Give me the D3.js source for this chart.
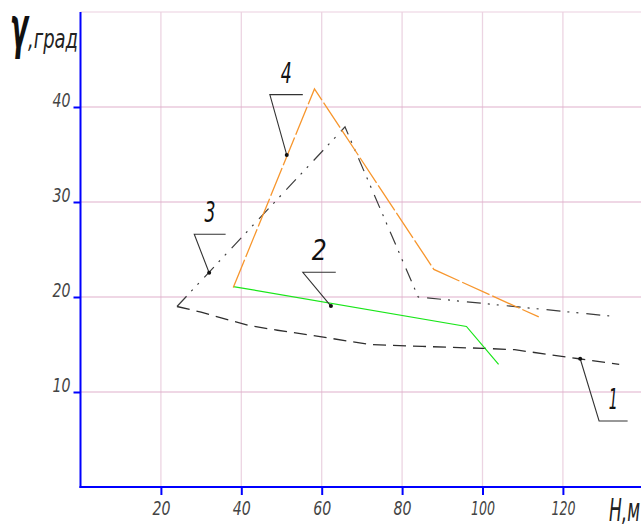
<!DOCTYPE html>
<html>
<head>
<meta charset="utf-8">
<script src="https://cdn.jsdelivr.net/npm/d3@7"></script>
<style>
  body { margin: 0; background: #fff; }
  svg { display: block; }
  .lbl { font-family: "DejaVu Sans Condensed", "Liberation Sans Narrow", sans-serif; font-style: italic; }
</style>
</head>
<body>
<svg id="chart" width="641" height="524"></svg>
<script>
///////////////////////////////////////////////////////////
// Data (H in m, gamma in degrees)

const curve1H = [24, 30, 35, 42, 49, 60, 72, 85, 100, 108, 124, 134];
const curve1G = [19, 18.4, 17.8, 17.0, 16.5, 15.8, 15.0, 14.8, 14.6, 14.45, 13.5, 12.9];

const curve2H = [38, 96, 104];
const curve2G = [21.1, 16.9, 12.9];

const curve3H = [24, 65.8, 84, 131.7];
const curve3G = [19, 37.9, 20, 18];

const curve4H = [38, 58.2, 87.9, 114];
const curve4G = [21, 41.9, 22.9, 17.9];

// callouts: point on curve, knee of leader, end of shelf
const calloutNames = ["1", "2", "3", "4"];
const calloutPointH = [124.3, 62.3, 32, 51.3];
const calloutPointG = [13.5, 19.05, 22.55, 34.95];
const calloutKneeH = [129, 55.3, 28.3, 47.1];
const calloutKneeG = [6.95, 22.6, 26.6, 41.3];
const calloutEndH = [136.1, 63.5, 36.1, 55.3];
const calloutWidth = [9, 15, 11, 11];

const xTicks = [20, 40, 60, 80, 100, 120];
const yTicks = [10, 20, 30, 40];
const yGrid = [10, 20, 30, 40, 50];

///////////////////////////////////////////////////////////
// Scales

const svg = d3.select("#chart");
const x = d3.scaleLinear().domain([0, 140]).range([80.5, 80.5 + 140 * 4.02]);
const y = d3.scaleLinear().domain([0, 50]).range([487, 12]);

// grid
svg.selectAll(".vgrid")
  .data(xTicks)
  .enter().append("line")
  .attr("x1", d => x(d)).attr("x2", d => x(d))
  .attr("y1", y(50)).attr("y2", y(0))
  .attr("stroke", "#ecd4e2")
  .attr("stroke-width", 1.3);

svg.selectAll(".hgrid")
  .data(yGrid)
  .enter().append("line")
  .attr("x1", x(0)).attr("x2", 641)
  .attr("y1", d => y(d)).attr("y2", d => y(d))
  .attr("stroke", d => d === 50 ? "#ebd0df" : "#dfb0cc")
  .attr("stroke-width", 1.2);

///////////////////////////////////////////////////////////
// Axes

const xAxis = svg.append("g")
  .attr("transform", `translate(0,${y(0)})`)
  .call(d3.axisBottom(x).tickValues(xTicks).tickSize(8).tickPadding(6));
const yAxis = svg.append("g")
  .attr("transform", `translate(${x(0)},0)`)
  .call(d3.axisLeft(y).tickValues(yTicks).tickSize(7).tickPadding(3));

[xAxis, yAxis].forEach(function (g) {
  g.select(".domain").remove();
  g.selectAll(".tick line").attr("stroke", "#0000ff").attr("stroke-width", 2);
  g.selectAll(".tick text")
    .attr("class", "lbl")
    .attr("font-size", 20)
    .attr("font-weight", 300)
    .attr("fill", "#444")
    .attr("textLength", d => String(d).length > 2 ? 24 : 18)
    .attr("lengthAdjust", "spacingAndGlyphs");
});
yAxis.selectAll(".tick text").attr("dy", "-0.05em");

// axis lines
svg.append("line")
  .attr("x1", x(0)).attr("x2", x(0))
  .attr("y1", y(50)).attr("y2", y(0) + 1)
  .attr("stroke", "#0000ff").attr("stroke-width", 2);
svg.append("line")
  .attr("x1", x(0) - 1).attr("x2", 641)
  .attr("y1", y(0)).attr("y2", y(0))
  .attr("stroke", "#0000ff").attr("stroke-width", 2);

///////////////////////////////////////////////////////////
// Curves

const line = d3.line().x(d => x(d[0])).y(d => y(d[1]));
const curves = [
  { h: curve1H, g: curve1G, color: "#2e2e2e", width: 1.3, dash: "13,7" },
  { h: curve2H, g: curve2G, color: "#19e619", width: 1.2, dash: null },
  { h: curve3H, g: curve3G, color: "#3c3c3c", width: 1.2, dash: "14,7,2,7,2,8" },
  { h: curve4H, g: curve4G, color: "#f7962d", width: 1.3, dash: "30,3" },
];

curves.forEach(function (c) {
  svg.append("path")
    .datum(c.h.map((h, i) => [h, c.g[i]]))
    .attr("d", line)
    .attr("fill", "none")
    .attr("stroke", c.color)
    .attr("stroke-width", c.width)
    .attr("stroke-dasharray", c.dash);
});

///////////////////////////////////////////////////////////
// Callouts with numbers

calloutNames.forEach(function (name, i) {
  const pts = [
    [calloutPointH[i], calloutPointG[i]],
    [calloutKneeH[i], calloutKneeG[i]],
    [calloutEndH[i], calloutKneeG[i]],
  ];
  svg.append("path")
    .attr("d", line(pts))
    .attr("fill", "none")
    .attr("stroke", "#333")
    .attr("stroke-width", 1.1);
  svg.append("circle")
    .attr("cx", x(calloutPointH[i]))
    .attr("cy", y(calloutPointG[i]))
    .attr("r", 2)
    .attr("fill", "#111");
  const mid = (x(calloutKneeH[i]) + x(calloutEndH[i])) / 2;
  svg.append("text")
    .attr("class", "lbl")
    .attr("x", mid - calloutWidth[i] / 2)
    .attr("y", y(calloutKneeG[i]) - 12)
    .attr("font-size", 29)
    .attr("fill", "#111")
    .attr("textLength", calloutWidth[i])
    .attr("lengthAdjust", "spacingAndGlyphs")
    .text(name);
});

///////////////////////////////////////////////////////////
// Axis titles

svg.append("text")
  .attr("class", "lbl")
  .attr("x", 10)
  .attr("transform", "translate(0,47) scale(1,1.35)")
  .attr("font-size", 42)
  .attr("font-weight", "bold")
  .attr("fill", "#111")
  .attr("textLength", 18)
  .attr("lengthAdjust", "spacingAndGlyphs")
  .text("γ");
svg.append("text")
  .attr("class", "lbl")
  .attr("x", 28)
  .attr("y", 48)
  .attr("font-size", 26)
  .attr("fill", "#222")
  .attr("textLength", 50)
  .attr("lengthAdjust", "spacingAndGlyphs")
  .text(",град");

svg.append("text")
  .attr("class", "lbl")
  .attr("x", 609)
  .attr("y", 521)
  .attr("font-size", 32)
  .attr("fill", "#222")
  .attr("textLength", 31)
  .attr("lengthAdjust", "spacingAndGlyphs")
  .text("Н,м");
</script>
</body>
</html>
